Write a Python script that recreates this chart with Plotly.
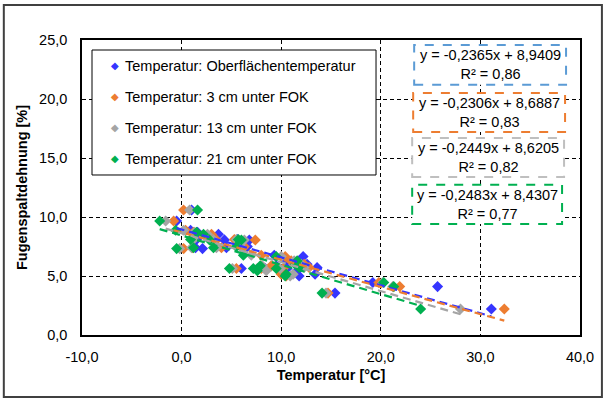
import plotly.graph_objects as go

# ---- data -------------------------------------------------------------
series_names = [
    "Temperatur: Oberflächentemperatur",
    "Temperatur: 3 cm unter FOK",
    "Temperatur: 13 cm unter FOK",
    "Temperatur: 21 cm unter FOK",
]
# joint gap expansion [%] (shared by all four temperature series)
dehnung = [10.6, 9.66, 8.87, 8.7, 8.1, 7.32, 7.4, 8.54, 8.06, 8.1, 8.05, 7.49, 7.4,
           6.76, 6.65, 6.28, 5.72, 5.63, 5.63, 5.44, 5.63, 5.15, 5.0, 5.86, 3.55,
           4.45, 4.1, 2.2, 6.0]
temp_oberflaeche = [1.0, -0.5, 0.9, 1.6, 1.5, 2.1, 1.4, 3.7, 4.3, 5.6, 6.8, 6.6, 4.5,
                    9.3, 12.2, 10.5, 13.6, 6.0, 8.4, 11.6, 10.6, 13.4, 11.8, 9.5, 15.4,
                    19.2, 25.7, 31.1, 12.6]
temp_3cm = [0.2, -0.8, 0.4, 1.2, 1.0, 0.2, 1.1, 3.0, 3.5, 5.3, 7.4, 6.3, 4.0,
            8.0, 10.4, 11.0, 12.8, 5.5, 8.0, 9.8, 10.2, 10.0, 10.5, 9.0, 14.7,
            19.8, 21.9, 32.4, 12.3]
temp_13cm = [0.8, -1.6, 0.2, 1.3, 1.2, -0.2, 1.0, 2.6, 3.2, 5.5, 6.3, 5.9, 3.5,
             7.0, 10.0, 11.3, 12.3, 5.1, 7.6, 8.5, 9.9, 11.2, 10.9, 8.1, 14.5,
             20.2, 21.2, 28.0, 12.0]
temp_21cm = [1.6, -2.2, -0.6, 1.5, 0.9, -0.5, 1.2, 2.2, 2.8, 5.7, 6.0, 5.5, 3.2,
             6.2, 9.5, 11.6, 11.8, 4.8, 7.2, 7.6, 9.5, 10.5, 10.4, 7.9, 14.1,
             20.3, 21.3, 24.0, 11.4]
temps = [temp_oberflaeche, temp_3cm, temp_13cm, temp_21cm]

# linear trend lines (Excel): slope, intercept, R²
slopes = [-0.2365, -0.2306, -0.2449, -0.2483]
intercepts = [8.9409, 8.6887, 8.6205, 8.4307]
r2_values = ["0,86", "0,83", "0,82", "0,77"]
eq_labels = ["y = -0,2365x + 8,9409", "y = -0,2306x + 8,6887",
             "y = -0,2449x + 8,6205", "y = -0,2483x + 8,4307"]

x_ticks = [-10, 0, 10, 20, 30, 40]
x_tick_labels = ["-10,0", "0,0", "10,0", "20,0", "30,0", "40,0"]
y_ticks = [0, 5, 10, 15, 20, 25]
y_tick_labels = ["0,0", "5,0", "10,0", "15,0", "20,0", "25,0"]

# ---- styles -----------------------------------------------------------
marker_colors = ["#3535FF", "#ED7D31", "#A5A5A5", "#00B050"]
line_colors = ["#3535FF", "#ED7D31", "#A5A5A5", "#00B050"]
box_colors = ["#5B9BD5", "#ED7D31", "#BFBFBF", "#00B050"]
FONT = "Liberation Sans, Arial, sans-serif"
FS = 14.5

fig = go.Figure()
for i in range(4):
    fig.add_trace(go.Scatter(
        x=temps[i], y=dehnung, mode="markers", name=series_names[i],
        showlegend=False,
        marker=dict(symbol="diamond", size=8.5, color=marker_colors[i],
                    line=dict(width=0)),
    ))
for i in range(4):
    xmin, xmax = min(temps[i]), max(temps[i])
    fig.add_trace(go.Scatter(
        x=[xmin, xmax],
        y=[slopes[i] * xmin + intercepts[i], slopes[i] * xmax + intercepts[i]],
        mode="lines", showlegend=False,
        line=dict(color=line_colors[i], width=2.2, dash="8px,5px"),
    ))

# ---- legend box (drawn by hand to match the original layout) ----------
fig.add_shape(type="rect", xref="paper", yref="paper",
              x0=0.0201, x1=0.5904, y0=0.5424, y1=0.9661, layer="above",
              fillcolor="white", line=dict(color="#000000", width=1))
legend_y = [0.912, 0.807, 0.702, 0.597]
for i in range(4):
    fig.add_annotation(xref="paper", yref="paper", x=0.0663, y=legend_y[i],
                       xanchor="center", yanchor="middle", showarrow=False,
                       text="◆", font=dict(family="DejaVu Sans", size=10,
                                           color=marker_colors[i]))
    fig.add_annotation(xref="paper", yref="paper", x=0.0823, y=legend_y[i],
                       xanchor="left", yanchor="middle", showarrow=False,
                       text=series_names[i],
                       font=dict(family=FONT, size=FS, color="#000000"))

# ---- equation boxes (paper coords) ------------------------------------
boxes = [
    (0.667, 0.972, 0.848, 0.983),
    (0.665, 0.970, 0.688, 0.820),
    (0.663, 0.968, 0.536, 0.668),
    (0.663, 0.964, 0.376, 0.509),
]
for i, (x0, x1, y0, y1) in enumerate(boxes):
    fig.add_shape(type="rect", xref="paper", yref="paper",
                  x0=x0, x1=x1, y0=y0, y1=y1, layer="above",
                  fillcolor="white",
                  line=dict(color=box_colors[i], width=2, dash="dash"))
    fig.add_annotation(xref="paper", yref="paper",
                       x=(x0 + x1) / 2, y=(y0 + y1) / 2,
                       xanchor="center", yanchor="middle",
                       text=f"{eq_labels[i]}<br>R² = {r2_values[i]}",
                       showarrow=False, align="center",
                       font=dict(family=FONT, size=FS, color="#000000"))

# outer chart border
fig.add_shape(type="rect", xref="paper", yref="paper",
              x0=-0.157, x1=1.044, y0=-0.21, y1=1.119,
              line=dict(color="#404040", width=2), layer="below")

fig.update_layout(
    width=606, height=400,
    margin=dict(l=82, r=26, t=40, b=65, autoexpand=False),
    paper_bgcolor="white", plot_bgcolor="white",
    font=dict(family=FONT, size=FS, color="#000000"),
    showlegend=False,
    xaxis=dict(range=[-10, 40], tickvals=x_ticks, ticktext=x_tick_labels,
               automargin=False,
               showline=True, linecolor="#000000", linewidth=1.5, mirror=True,
               showgrid=True, gridcolor="#000000", griddash="4px,3px", gridwidth=1,
               zeroline=False, ticks="", ticklabelstandoff=8,
               tickfont=dict(family=FONT, size=FS, color="#000000"),
               title=dict(text="<b>Temperatur [°C]</b>", standoff=6,
                          font=dict(family=FONT, size=FS, color="#000000"))),
    yaxis=dict(range=[0, 25], tickvals=y_ticks, ticktext=y_tick_labels,
               automargin=False,
               showline=True, linecolor="#000000", linewidth=1.5, mirror=True,
               showgrid=True, gridcolor="#000000", griddash="4px,3px", gridwidth=1,
               zeroline=False, ticks="", ticklabelstandoff=10,
               tickfont=dict(family=FONT, size=FS, color="#000000"),
               title=dict(text="<b>Fugenspaltdehnung [%]</b>", standoff=8,
                          font=dict(family=FONT, size=FS, color="#000000"))),
)

fig.write_html("out.html", config={"displayModeBar": False},
               post_script="document.body.style.margin='0';"
                           "document.body.style.overflow='hidden';")
